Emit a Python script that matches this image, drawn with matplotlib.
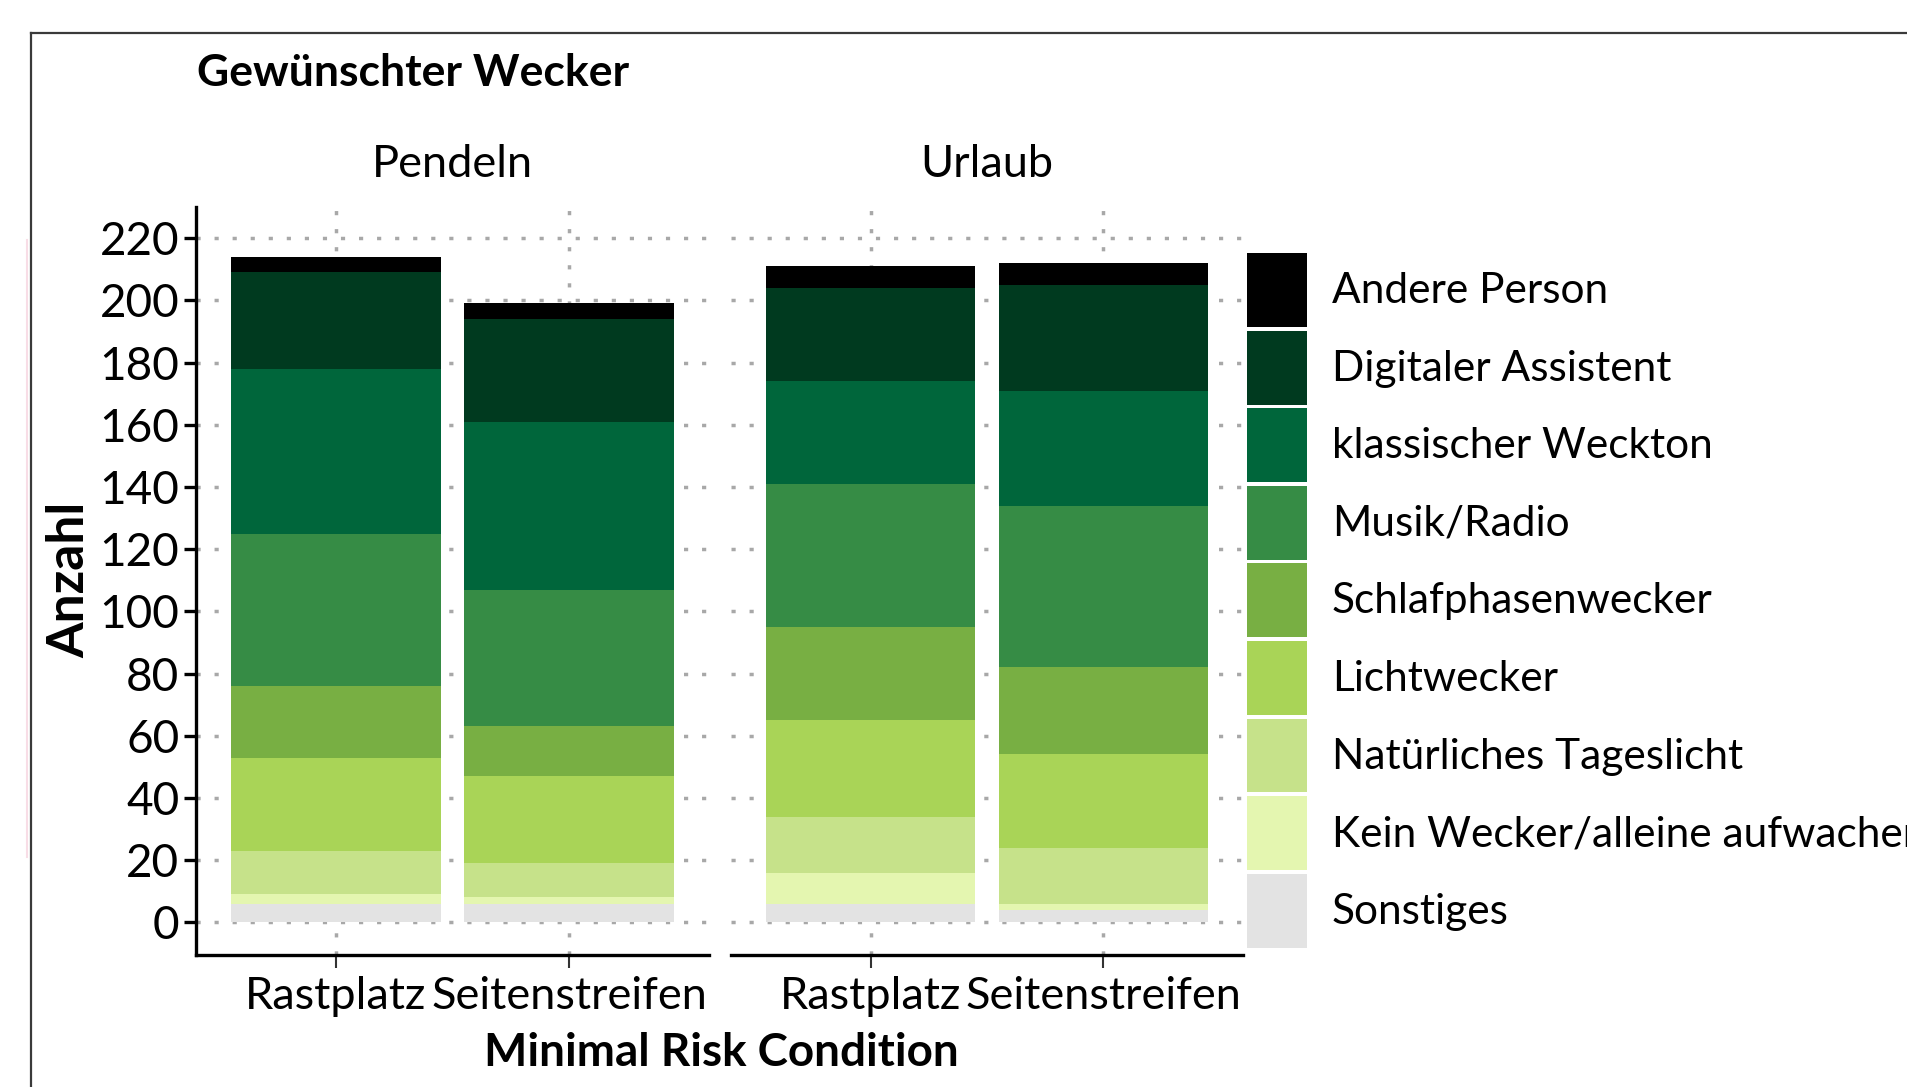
import matplotlib.pyplot as plt
import numpy as np
from matplotlib.lines import Line2D

# stack order bottom -> top
categories = ['Sonstiges', 'Kein Wecker/alleine aufwachen', 'Natürliches Tageslicht',
              'Lichtwecker', 'Schlafphasenwecker', 'Musik/Radio',
              'klassischer Weckton', 'Digitaler Assistent', 'Andere Person']
colors = ['#e3e3e3', '#e4f6b0', '#c6e28a', '#a9d457', '#78af43',
          '#368c45', '#00663b', '#003a1f', '#000000']

conditions = ['Rastplatz', 'Seitenstreifen']
panels = ['Pendeln', 'Urlaub']

pendeln_rastplatz = [6, 3, 14, 30, 23, 49, 53, 31, 5]
pendeln_seitenstreifen = [6, 2, 11, 28, 16, 44, 54, 33, 5]
urlaub_rastplatz = [6, 10, 18, 31, 30, 46, 33, 30, 7]
urlaub_seitenstreifen = [4, 2, 18, 30, 28, 52, 37, 34, 7]

yticks = list(range(0, 221, 20))

plt.rcParams['font.family'] = ['Lato', 'DejaVu Sans']

W, H = 1907, 1087
fig = plt.figure(figsize=(W / 100, H / 100), dpi=100)


def box(l, t, r, b):
    return [l / W, 1 - b / H, (r - l) / W, (b - t) / H]


ax1 = fig.add_axes(box(196, 207, 709, 955))
ax2 = fig.add_axes(box(731, 207, 1243, 955))

panel_data = [(ax1, panels[0], [pendeln_rastplatz, pendeln_seitenstreifen]),
              (ax2, panels[1], [urlaub_rastplatz, urlaub_seitenstreifen])]

gridcol = '#a8a8a8'
for ax, name, data in panel_data:
    x = np.arange(1, len(conditions) + 1)
    bottoms = np.zeros(len(conditions))
    for i, cat in enumerate(categories):
        vals = np.array([d[i] for d in data])
        ax.bar(x, vals, 0.9, bottom=bottoms, color=colors[i], label=cat, lw=0)
        bottoms += vals
    ax.set_xlim(0.4, 2.6)
    ax.set_ylim(-10.5, 230)
    ax.set_axisbelow(True)
    ax.set_yticks(yticks)
    ax.set_xticks(x)
    ax.set_xticklabels(conditions, fontsize=32.5)
    ax.grid(True, color=gridcol, linestyle=(0, (1.2, 4)), lw=2.5)
    for s in ['top', 'right']:
        ax.spines[s].set_visible(False)
    ax.spines['bottom'].set_linewidth(2.4)
    ax.spines['left'].set_linewidth(2.4)
    ax.tick_params(axis='x', length=9, width=1.5, pad=6, color='#333333')
    ax.tick_params(axis='y', length=9, width=2.4, pad=3, labelsize=33)
    ax.text(0.5, 1 + 43 / 748, name, transform=ax.transAxes, ha='center',
            va='center', fontsize=32.5)

ax2.spines['left'].set_visible(False)
ax2.tick_params(axis='y', left=False, labelleft=False)

handles, labels = ax1.get_legend_handles_labels()
fig.legend(handles[::-1], labels[::-1], loc='upper left',
           bbox_to_anchor=(1246.5 / W, 1 - 253 / H), frameon=False,
           borderpad=0, borderaxespad=0, prop=dict(family='Lato', size=30.5),
           handlelength=1.42, handleheight=2.31, labelspacing=0.085,
           handletextpad=0.59)

fig.text(197 / W, 1 - 73 / H, 'Gewünschter Wecker', fontsize=32,
         fontweight='bold', ha='left', va='center')
fig.text(70 / W, 1 - 580 / H, 'Anzahl', fontsize=37, fontweight='bold',
         rotation=90, ha='center', va='center')
fig.text(721 / W, 1 - 1053 / H, 'Minimal Risk Condition', fontsize=33,
         fontweight='bold', ha='center', va='center')

# outer frame
fig.add_artist(Line2D([31 / W, 1], [1 - 33 / H, 1 - 33 / H],
                      transform=fig.transFigure, color='#3a3a3a', lw=1.6))
fig.add_artist(Line2D([31 / W, 31 / W], [0, 1 - 33 / H],
                      transform=fig.transFigure, color='#3a3a3a', lw=1.6))
fig.add_artist(Line2D([27 / W, 27 / W], [1 - 857 / H, 1 - 240 / H],
                      transform=fig.transFigure, color='#f8dde6', lw=1.5))

fig.savefig('out.png', dpi=100)
